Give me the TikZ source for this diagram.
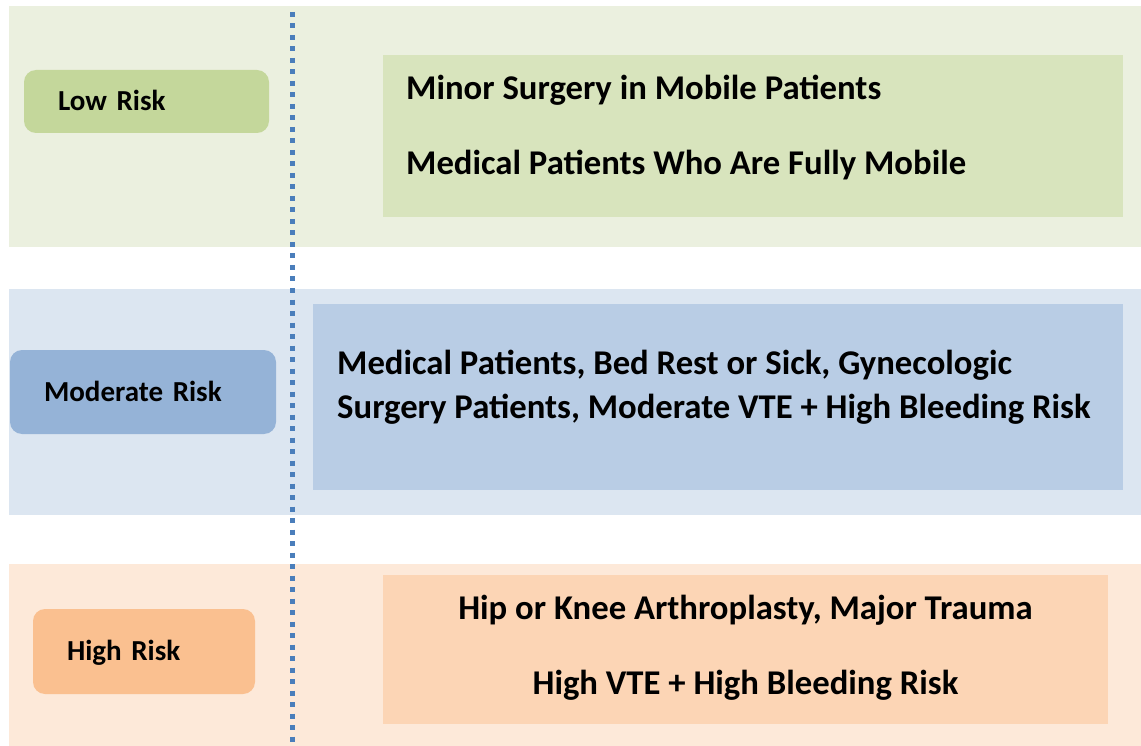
\documentclass[tikz,border=0pt]{standalone}
\usepackage{fontspec}
\setmainfont{Carlito}
\definecolor{lowband}{HTML}{EBF0DF}
\definecolor{lowbox}{HTML}{C4D79B}
\definecolor{lowfill}{HTML}{D8E4BD}
\definecolor{modband}{HTML}{DCE6F1}
\definecolor{modbox}{HTML}{95B3D7}
\definecolor{modfill}{HTML}{B9CDE5}
\definecolor{highband}{HTML}{FDE9D9}
\definecolor{highbox}{HTML}{FAC090}
\definecolor{highfill}{HTML}{FCD5B5}
\definecolor{dotblue}{HTML}{4A7EBB}
\begin{document}
\begin{tikzpicture}[x=1pt,y=-1pt,
		band/.style={fill=#1,inner sep=0pt,anchor=north west,minimum width=1132pt},
		riskbox/.style={fill=#1,rounded corners=12pt,inner xsep=34pt,inner ysep=0pt,
			align=left,text height=18.7pt,text depth=0pt,
			font=\fontsize{29}{35}\selectfont\bfseries},
		fillbox/.style={fill=#1,inner sep=0pt,anchor=north west},
		content/.style={inner sep=0pt,font=\fontsize{34.7}{44}\selectfont\bfseries},
		dotline/.style={draw=dotblue,line width=5pt,dash pattern=on 5pt off 6.5pt}
		]
		\useasboundingbox (0,0) rectangle (1141,746);
		% background bands
		\node[band=lowband, minimum height=241pt](B1) at (9,6){};
		\node[band=modband, minimum height=226pt](B2) at (9,289){};
		\node[band=highband, minimum height=182pt](B3) at (9,564){};
		% boxes on the right
		\node[fillbox=lowfill, minimum width=740pt, minimum height=162pt](C1) at (383,55){};
		\node[fillbox=modfill, minimum width=810pt, minimum height=186pt](C2) at (313,304){};
		\node[fillbox=highfill, minimum width=725pt, minimum height=149pt](C3) at (383,575){};
		% risk labels
		\node[riskbox=lowbox, text width=177pt, minimum height=63pt](R1) at (146.5,101.5){Low Risk};
		\node[riskbox=modbox, text width=198pt, minimum height=84pt](R2) at (143,392){Moderate Risk};
		\node[riskbox=highbox, text width=154pt, minimum height=85pt](R3) at (144,651.5){High Risk};
		% texts (base is the last line)
		\node[content, anchor=base west, align=left](T1) at (406,175){Minor Surgery in Mobile Patients\\[31pt]
			Medical Patients Who Are Fully Mobile};
		\node[content, anchor=base west, align=left](T2) at (337,418){Medical Patients, Bed Rest or Sick, Gynecologic\\
			Surgery Patients, Moderate VTE + High Bleeding Risk};
		\node[content, anchor=base, align=center](T3) at (745.5,694){Hip or Knee Arthroplasty, Major Trauma\\[31pt]
			High VTE + High Bleeding Risk};
		% dotted divider
		\coordinate (D0) at (292,12);
		\coordinate (D1) at (292,743);
		\draw[dotline] (D0) -- (D1);
	\end{tikzpicture}
\end{document}
